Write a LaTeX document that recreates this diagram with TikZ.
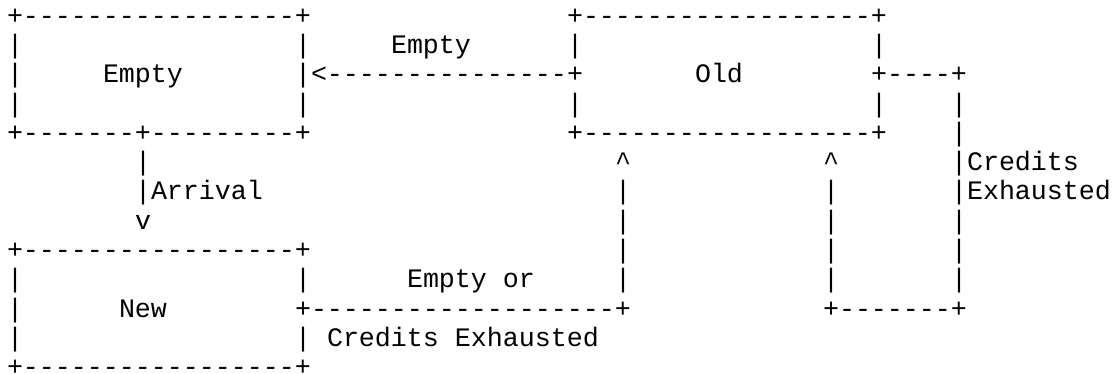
\documentclass[tikz,border=0pt]{standalone}
\usepackage{fontspec}
\setmonofont{Liberation Mono}
\newcommand\asciifont{\ttfamily\fontsize{26.66pt}{29.31pt}\selectfont}
\tikzset{
  asc/.style={anchor=base west, inner sep=0pt, outer sep=0pt, font=\asciifont},
}
\begin{document}
\begin{tikzpicture}[x=16pt, y=-29.31pt]
        \useasboundingbox (-7pt,24.1pt) rectangle (1107pt,-349.9pt);
        %
        % Empty box
        \node[asc] (emptytop) at (0,0) {+-----------------+};
        \foreach \r in {1,2,3} {
          \node[asc] (emptyl\r) at (0,\r) {|};
          \node[asc] (emptyr\r) at (18,\r) {|};
        }
        \node[asc] (empty) at (6,2) {Empty};
        \node[asc] (emptybot) at (0,4) {+-------+---------+};
        %
        % Old box
        \node[asc] (oldtop) at (35,0) {+------------------+};
        \foreach \r/\c in {1/|,2/+,3/|} {
          \node[asc] (oldl\r) at (35,\r) {\c};
          \node[asc] (oldr\r) at (54,\r) {\c};
        }
        \node[asc] (old) at (43,2) {Old};
        \node[asc] (oldbot) at (35,4) {+------------------+};
        %
        % New box
        \node[asc] (newtop) at (0,8) {+-----------------+};
        \foreach \r/\c in {9/|,10/+,11/|} {
          \node[asc] (newl\r) at (0,\r) {|};
          \node[asc] (newr\r) at (18,\r) {\c};
        }
        \node[asc] (new) at (7,10) {New};
        \node[asc] (newbot) at (0,12) {+-----------------+};
        %
        % Old -> Empty
        \node[asc] (oldempty) at (19,2) {<---------------};
        \node[asc] (lblempty) at (24,1) {Empty};
        %
        % Empty -> New
        \foreach \r in {5,6} {
          \node[asc] (arr\r) at (8,\r) {|};
        }
        \node[asc] (arrtip) at (8,7) {v};
        \node[asc] (lblarrival) at (9,6) {Arrival};
        %
        % New -> Old
        \node[asc] (newold) at (19,10) {-------------------+};
        \foreach \r in {6,...,9} {
          \node[asc] (newup\r) at (38,\r) {|};
        }
        \node[asc] (newuptip) at (38,5) {\textasciicircum};
        \node[asc] (lblemptyor) at (25,9) {Empty or};
        \node[asc] (lblcredits) at (20,11) {Credits Exhausted};
        %
        % Old -> Old
        \node[asc] (loopout) at (55,2) {----+};
        \foreach \r in {3,...,9} {
          \node[asc] (loopdown\r) at (59,\r) {|};
        }
        \node[asc] (loopbot) at (51,10) {+-------+};
        \foreach \r in {6,...,9} {
          \node[asc] (loopup\r) at (51,\r) {|};
        }
        \node[asc] (loopuptip) at (51,5) {\textasciicircum};
        \node[asc] (lblloop1) at (60,5) {Credits};
        \node[asc] (lblloop2) at (60,6) {Exhausted};
      \end{tikzpicture}
\end{document}
